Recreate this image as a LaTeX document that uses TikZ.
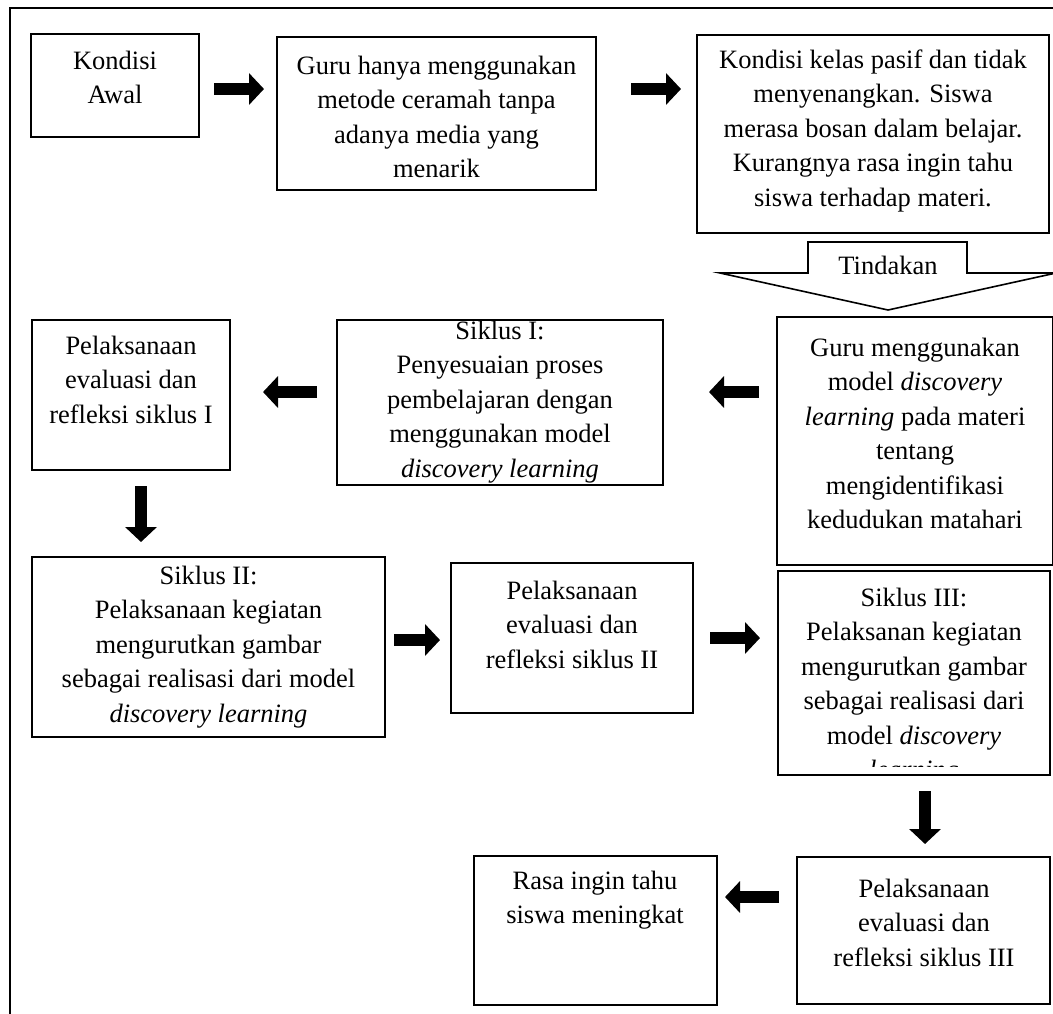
\documentclass[tikz,border=0pt]{standalone}
\usepackage{fontspec}
\setmainfont{Liberation Serif}
\usetikzlibrary{arrows.meta,fit,calc}
\begin{document}
\begin{tikzpicture}[x=0.5pt,y=-0.5pt,
  box/.style={draw, line width=1pt, inner sep=0pt},
  txt/.style={align=center, inner sep=0pt, font=\fontsize{13.25}{17.25}\selectfont, anchor=base},
  barrow/.style={line width=6pt, -{Triangle[length=7.5pt,width=15.5pt]}},
]
\useasboundingbox (0,0) rectangle (1053,1013);
\clip (0,0) rectangle (1053,1013);
\draw[line width=1.2pt] (1060,8) -- (10,8) -- (10,1020);

% boxes
\node[box, fit={(31,34) (199,137)}] (a) {};
\node[box, fit={(277,37) (596,190)}] (b) {};
\node[box, fit={(697,35) (1049,233)}] (c) {};
\node[box, fit={(32,320) (230,470)}] (d) {};
\node[box, fit={(337,320) (663,485)}] (e) {};
\node[box, fit={(777,317) (1053,565)}] (f) {};
\node[box, fit={(32,557) (385,737)}] (g) {};
\node[box, fit={(451,563) (693,713)}] (h) {};
\node[box, fit={(778,571) (1050,775)}] (i) {};
\node[box, fit={(797,857) (1050,1004)}] (j) {};
\node[box, fit={(474,856) (717,1005)}] (k) {};

% texts (anchor = baseline of last line)
\node[txt] (ta) at (115,103.5) {Kondisi\\Awal};
\node[txt] (tb) at (436.5,177.5) {Guru hanya menggunakan\\metode ceramah tanpa\\adanya media yang\\menarik};
\node[txt] (tc) at (873,206) {Kondisi kelas pasif dan tidak\\menyenangkan. Siswa\\merasa bosan dalam belajar.\\Kurangnya rasa ingin tahu\\siswa terhadap materi.};
\node[txt] (td) at (131,423) {Pelaksanaan\\evaluasi dan\\refleksi siklus I};
\node[txt] (te) at (500,477) {Siklus I:\\Penyesuaian proses\\pembelajaran dengan\\menggunakan model\\\textit{discovery learning}};
\node[txt] (tf) at (915,528.5) {Guru menggunakan\\model \textit{discovery}\\\textit{learning} pada materi\\tentang\\mengidentifikasi\\kedudukan matahari};
\node[txt] (tg) at (208.5,722) {Siklus II:\\Pelaksanaan kegiatan\\mengurutkan gambar\\sebagai realisasi dari model\\\textit{discovery learning}};
\node[txt] (th) at (572,668) {Pelaksanaan\\evaluasi dan\\refleksi siklus II};
\begin{scope}
\clip (780,573) rectangle (1048,766);
\node[txt] (ti) at (914,778.5) {Siklus III:\\Pelaksanan kegiatan\\mengurutkan gambar\\sebagai realisasi dari\\model \textit{discovery}\\\textit{learning}};
\end{scope}
\node[txt] (tj) at (924,966) {Pelaksanaan\\evaluasi dan\\refleksi siklus III};
\node[txt] (tk) at (595,923.5) {Rasa ingin tahu\\siswa meningkat};

% Tindakan arrow
\draw[line width=0.8pt] (808,242) -- (967,242) -- (967,273) -- (1056,273) -- (888,310) -- (720,273) -- (808,273) -- cycle;
\node[txt] (tind) at (888,274) {Tindakan};

% block arrows
\draw[barrow] ($(a.east)+(14,3.5)$) -- ($(a.east -| b.west)+(-12,3.5)$);
\draw[barrow] ($(b.east)+(34,-24.5)$) -- ($(b.east -| c.west)+(-15,-24.5)$);
\draw[barrow] ($(f.west |- e.east)+(-17,-10.5)$) -- ($(e.east)+(45,-10.5)$);
\draw[barrow] ($(e.west |- d.east)+(-19,-3)$) -- ($(d.east)+(32,-3)$);
\draw[barrow] ($(d.south)+(10,15)$) -- ($(d.south |- g.north)+(10,-14)$);
\draw[barrow] ($(g.east)+(8,-7)$) -- ($(g.east -| h.west)+(-10,-7)$);
\draw[barrow] ($(h.east)+(16,0)$) -- ($(h.east -| i.west)+(-17,0)$);
\draw[barrow] ($(i.south)+(11,15)$) -- ($(i.south |- j.north)+(11,-12)$);
\draw[barrow] ($(j.west |- k.east)+(-17,-33.5)$) -- ($(k.east)+(7,-33.5)$);
\end{tikzpicture}
\end{document}
